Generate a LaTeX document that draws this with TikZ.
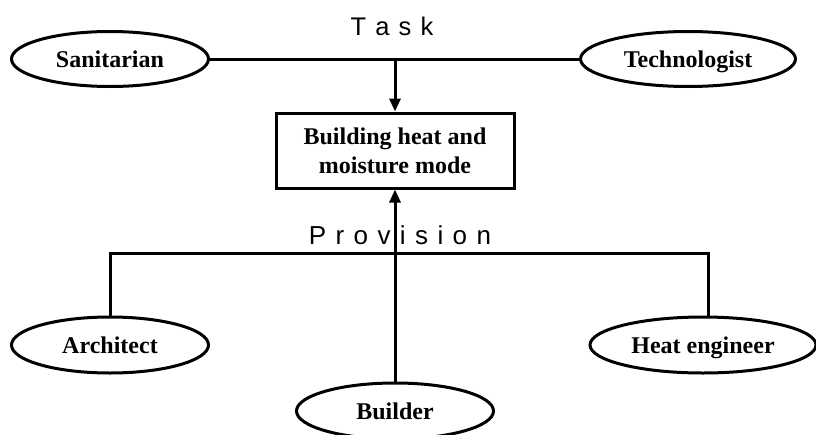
\documentclass[tikz,border=0pt]{standalone}
\usepackage{fontspec}
\setmainfont{Liberation Serif}
\newfontfamily\labelsans{Liberation Sans}
\newfontfamily\labelsanswide[WordSpace=1.3]{Liberation Sans}
\usetikzlibrary{shapes.geometric,arrows.meta}
\begin{document}
\begin{tikzpicture}[x=1pt,y=-1pt,
  line width=3pt,
  actor/.style={ellipse,draw,line width=3pt,inner sep=0pt,minimum height=55pt,
    text height=17pt,text depth=0pt,
    font=\fontsize{24}{28}\selectfont\bfseries},
  modebox/.style={rectangle,draw,line width=3pt,inner sep=0pt,minimum width=238pt,minimum height=75pt,
    align=center,font=\fontsize{24}{29}\selectfont\bfseries},
  arr/.style={-{Triangle[length=13pt,width=11pt]}},
  lbl/.style={inner sep=0pt,anchor=base}]
\useasboundingbox (0,0) rectangle (816,434);
\node[actor,minimum width=197pt] (san) at (110,59) {Sanitarian};
\node[actor,minimum width=215pt] (tech) at (688,59) {Technologist};
\node[modebox] (mode) at (395,150.5) {Building heat and\\moisture mode};
\node[actor,minimum width=197pt,minimum height=56pt] (arch) at (110,345) {Architect};
\node[actor,minimum width=226pt,minimum height=56pt] (heat) at (703,345) {Heat engineer};
\node[actor,minimum width=197pt,minimum height=56pt] (build) at (395,411) {Builder};
\node[lbl,font=\labelsans\fontsize{25.5}{30}\selectfont] (task) at (392,35) {T a s k};
\node[lbl,font=\labelsanswide\fontsize{26}{30}\selectfont] (prov) at (400,244) {P r o v i s i o n};
\coordinate (tj) at (395,59);
\coordinate (pl) at (110,253);
\coordinate (pr) at (708,253);
\draw (san.east) -- (tech.west);
\draw[arr] (tj) -- (mode.north);
\draw (arch.north) -- (pl) -- (pr) -- (pr |- heat.north);
\draw[arr] (build.north) -- (mode.south);
\end{tikzpicture}
\end{document}
